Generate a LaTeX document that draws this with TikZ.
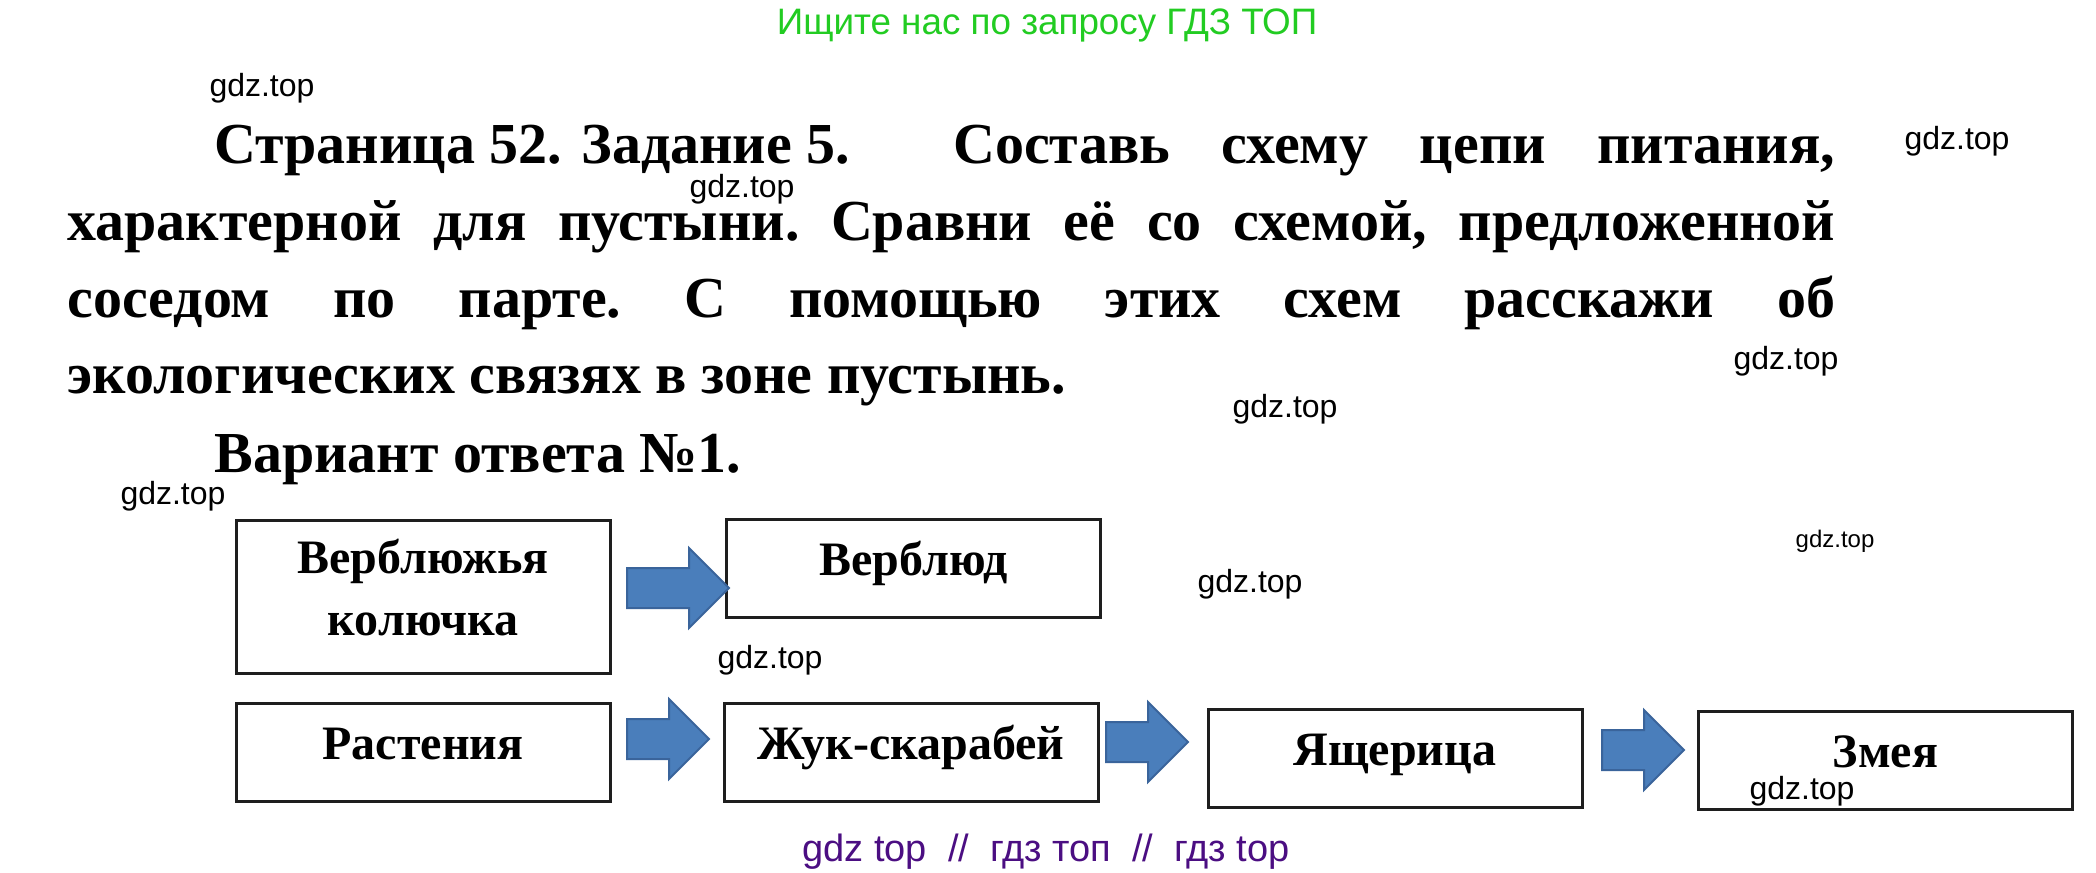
\documentclass[tikz,border=0pt]{standalone}
\usepackage{fontspec}
\setmainfont{Liberation Serif}
\setsansfont{Liberation Sans}
\usetikzlibrary{shapes.arrows}
\definecolor{gdzgreen}{RGB}{34,204,34}
\definecolor{gdzpurple}{RGB}{75,14,130}
\definecolor{arrowblue}{RGB}{74,126,187}
\definecolor{arrowedge}{RGB}{58,100,155}
\definecolor{boxedge}{RGB}{30,30,30}

\begin{document}
\begin{tikzpicture}[x=0.5pt,y=-0.5pt,
  wmark/.style={font=\sffamily\fontsize{16}{18}\selectfont, inner sep=0pt},
  task/.style={font=\bfseries\fontsize{29}{35}\selectfont, inner sep=0pt, anchor=base west},
  chainbox/.style={draw=boxedge, line width=1.5pt, minimum width=187pt, minimum height=49pt,
    inner sep=0pt, font=\bfseries\fontsize{24}{31}\selectfont},
  oneline/.style={text height=17pt, text depth=10pt},
  eats/.style={single arrow, single arrow head extend=10pt, inner xsep=0pt, inner ysep=9.5pt,
    minimum height=41pt, fill=arrowblue, draw=arrowedge, line width=1pt, anchor=tail}
]

\fill[white] (0,0) rectangle (2096,872);
\useasboundingbox (0,0) rectangle (2096,872);

\node[font=\sffamily\fontsize{18.4}{21}\selectfont, text=gdzgreen, anchor=base, inner sep=0pt] (search) at (1047,35)
{Ищите нас по запросу ГДЗ ТОП};

\node[task] (line1) at (214,163)
{\hbox to 810.5pt{Страница 52. Задание 5.\hfill\hfill Составь\hfill схему\hfill цепи\hfill питания,}};
\node[task] (line2) at (67,240)
{\hbox to 884pt{характерной\hfill для\hfill пустыни.\hfill Сравни\hfill её\hfill со\hfill схемой,\hfill предложенной}};
\node[task] (line3) at (67,317)
{\hbox to 884pt{соседом\hfill по\hfill парте.\hfill С\hfill помощью\hfill этих\hfill схем\hfill расскажи\hfill об}};
\node[task] (line4) at (67,393) {экологических связях в зоне пустынь.};
\node[task] (answer) at (214,472) {Вариант ответа №1.};


\node[chainbox, minimum height=76.5pt, align=center] (camelthorn) at (423,596.5)
{Верблюжья\\колючка\rule[-9.5pt]{0pt}{9.5pt}};
\node[chainbox, oneline] (camel) at (913.5,568.5) {Верблюд};

\node[chainbox, oneline] (plants) at (423,752) {Растения};
\node[chainbox, oneline] (beetle) at (911,752) {Жук-скарабей};
\node[chainbox, oneline] (lizard) at (1395,758) {Ящерица};
\node[chainbox, oneline] (snake) at (1885.5,760.5) {Змея};

\node[eats, minimum height=51pt] (arr1) at (626,588) {};
\node[eats] (arr2) at (626,739) {};
\node[eats] (arr3) at (1105,742) {};
\node[eats] (arr4) at (1601,750) {};

{
\node[wmark] (w1) at (262,88) {gdz.top};
\node[wmark] (w2) at (1957,141) {gdz.top};
\node[wmark] (w3) at (742,189) {gdz.top};
\node[wmark] (w4) at (1786,361) {gdz.top};
\node[wmark] (w5) at (1285,409) {gdz.top};
\node[wmark] (w6) at (173,496) {gdz.top};
\node[wmark, font=\sffamily\fontsize{12}{14}\selectfont] (w7) at (1835,541) {gdz.top};
\node[wmark] (w8) at (1250,584) {gdz.top};
\node[wmark] (w9) at (770,660) {gdz.top};
\node[wmark] (w10) at (1802,791) {gdz.top};
}

\node[font=\sffamily\fontsize{19}{21}\selectfont, text=gdzpurple, anchor=base, inner sep=0pt] (footer) at (1046,861)
{gdz top\ \ //\ \ гдз топ\ \ //\ \ гдз top};

\end{tikzpicture}
\end{document}
